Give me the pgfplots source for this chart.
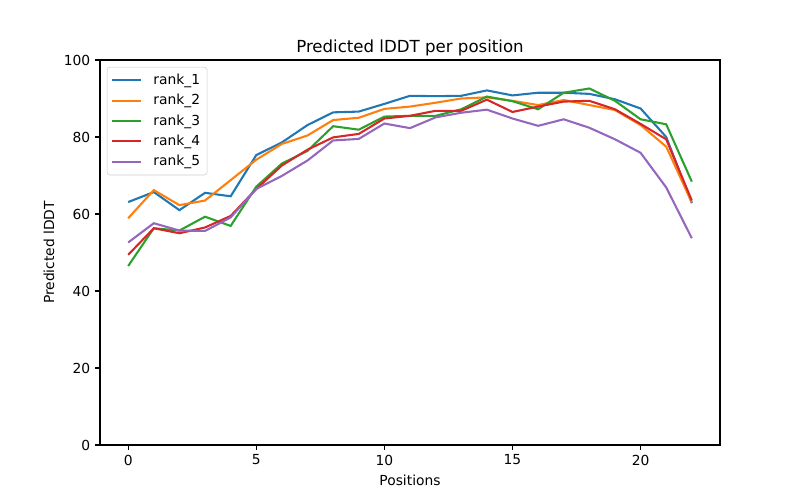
\documentclass[border=0pt]{standalone}
\usepackage{pgfplots}
\pgfplotsset{compat=1.18}
\usepackage{fontspec}
\setmainfont{DejaVu Sans}
\definecolor{c1}{HTML}{1F77B4}
\definecolor{c2}{HTML}{FF7F0E}
\definecolor{c3}{HTML}{2CA02C}
\definecolor{c4}{HTML}{D62728}
\definecolor{c5}{HTML}{9467BD}
\begin{document}
\fontsize{10}{12}\selectfont
\begin{tikzpicture}
\begin{axis}[
    at={(0,0)}, anchor=south west,
    scale only axis, width=6.2in, height=3.85in,
    xmin=-1.1, xmax=23.1, ymin=0, ymax=100,
    xtick={0,5,10,15,20}, ytick={0,20,40,60,80,100},
    tick align=outside, tick pos=left,
    major tick length=3.5pt,
    tick style={black, line width=0.8pt},
    axis line style={line width=0.8pt},
    /pgf/number format/assume math mode=true,
    ticklabel style={font=\fontsize{10}{12}\selectfont},
    title={Predicted lDDT per position},
    title style={font=\fontsize{12}{14}\selectfont, yshift=-6.5pt},
    xlabel={Positions}, ylabel={Predicted lDDT},
    label style={font=\fontsize{10}{12}\selectfont},
    legend style={at={(0.011,0.982)}, anchor=north west, draw=black!20,
        rounded corners=2pt, fill=white, fill opacity=0.8, text opacity=1,
        font=\fontsize{10}{12}\selectfont, row sep=1.6pt, inner sep=3pt},
    legend cell align=left,
    legend image code/.code={\draw[#1] (0cm,0cm) -- (0.72cm,0cm); \path (0.95cm,0cm);},
    every axis plot/.append style={line width=1.5pt, no markers},
]
\addplot[c1] coordinates {(0,63.1)(1,65.7)(2,61.0)(3,65.5)(4,64.6)(5,75.3)(6,78.6)(7,83.1)(8,86.4)(9,86.6)(10,88.6)(11,90.7)(12,90.6)(13,90.7)(14,92.1)(15,90.8)(16,91.5)(17,91.5)(18,91.2)(19,89.8)(20,87.4)(21,80.0)(22,62.8)};
\addplot[c2] coordinates {(0,58.9)(1,66.2)(2,62.3)(3,63.5)(4,68.8)(5,74.1)(6,78.2)(7,80.4)(8,84.4)(9,85.0)(10,87.3)(11,87.9)(12,88.9)(13,90.0)(14,90.3)(15,89.4)(16,88.3)(17,89.6)(18,88.3)(19,87.0)(20,83.1)(21,77.5)(22,63.0)};
\addplot[c3] coordinates {(0,46.5)(1,56.3)(2,55.7)(3,59.3)(4,56.9)(5,67.1)(6,73.1)(7,76.4)(8,82.8)(9,81.9)(10,85.3)(11,85.5)(12,85.5)(13,87.2)(14,90.5)(15,89.3)(16,87.2)(17,91.5)(18,92.6)(19,89.4)(20,84.6)(21,83.3)(22,68.4)};
\addplot[c4] coordinates {(0,49.4)(1,56.3)(2,55.0)(3,56.5)(4,59.5)(5,66.5)(6,72.6)(7,76.7)(8,79.9)(9,80.8)(10,84.8)(11,85.5)(12,86.8)(13,86.8)(14,89.7)(15,86.5)(16,87.9)(17,89.2)(18,89.4)(19,87.2)(20,83.4)(21,79.4)(22,63.5)};
\addplot[c5] coordinates {(0,52.6)(1,57.6)(2,55.7)(3,55.6)(4,59.1)(5,66.5)(6,69.9)(7,73.9)(8,79.1)(9,79.5)(10,83.5)(11,82.3)(12,85.1)(13,86.3)(14,87.1)(15,84.8)(16,82.9)(17,84.6)(18,82.4)(19,79.4)(20,75.9)(21,66.9)(22,53.7)};
\legend{rank\_1,rank\_2,rank\_3,rank\_4,rank\_5}
\end{axis}
\pgfresetboundingbox
\path (-1in,-0.55in) rectangle (7in,4.45in);
\end{tikzpicture}
\end{document}
